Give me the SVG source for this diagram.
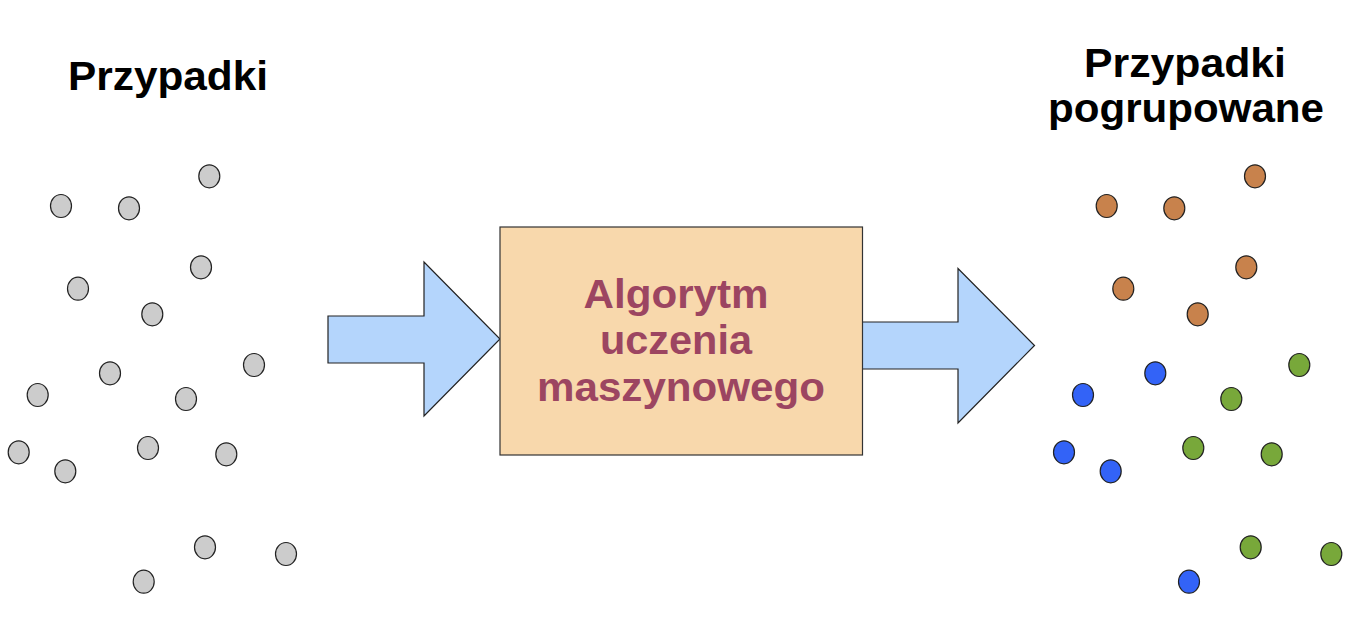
<svg xmlns="http://www.w3.org/2000/svg" width="1354" height="623" viewBox="0 0 1354 623">
<style>
.title{font-family:"Liberation Sans",Arial,sans-serif;font-weight:bold;font-size:40px;fill:#000}
.algo{font-family:"Liberation Sans",Arial,sans-serif;font-weight:bold;font-size:41px;fill:#9c4561}
.arrow{fill:#b4d5fc;stroke:#222;stroke-width:1.2}
.box{fill:#f8d8ac;stroke:#333;stroke-width:1.2}
ellipse{stroke:#222;stroke-width:1.2}
.g{fill:#cccccc}.o{fill:#c8824c}.b{fill:#3363f7}.v{fill:#78a83a}
</style>
<rect width="1354" height="623" fill="#fff"/>
<g id="title-left"><text class="title" x="68" y="90" textLength="200" lengthAdjust="spacingAndGlyphs">Przypadki</text></g>
<g id="title-right">
<text class="title" x="1084" y="77" textLength="202" lengthAdjust="spacingAndGlyphs">Przypadki</text>
<text class="title" x="1048" y="122" textLength="276" lengthAdjust="spacingAndGlyphs">pogrupowane</text>
</g>
<g id="cases-left">
<ellipse class="g" cx="209.3" cy="176.3" rx="10.5" ry="11.5"/>
<ellipse class="g" cx="61" cy="206" rx="10.5" ry="11.5"/>
<ellipse class="g" cx="129" cy="208.3" rx="10.5" ry="11.5"/>
<ellipse class="g" cx="201" cy="267.3" rx="10.5" ry="11.5"/>
<ellipse class="g" cx="78" cy="288.7" rx="10.5" ry="11.5"/>
<ellipse class="g" cx="152.3" cy="314.3" rx="10.5" ry="11.5"/>
<ellipse class="g" cx="254" cy="365" rx="10.5" ry="11.5"/>
<ellipse class="g" cx="110" cy="373.3" rx="10.5" ry="11.5"/>
<ellipse class="g" cx="37.7" cy="395" rx="10.5" ry="11.5"/>
<ellipse class="g" cx="186" cy="399" rx="10.5" ry="11.5"/>
<ellipse class="g" cx="18.7" cy="452.3" rx="10.5" ry="11.5"/>
<ellipse class="g" cx="148" cy="448" rx="10.5" ry="11.5"/>
<ellipse class="g" cx="226.3" cy="454.3" rx="10.5" ry="11.5"/>
<ellipse class="g" cx="65.3" cy="471.3" rx="10.5" ry="11.5"/>
<ellipse class="g" cx="205" cy="547.3" rx="10.5" ry="11.5"/>
<ellipse class="g" cx="286" cy="554" rx="10.5" ry="11.5"/>
<ellipse class="g" cx="143.7" cy="581.7" rx="10.5" ry="11.5"/>
</g>
<g id="cases-right">
<ellipse class="o" cx="1255" cy="176.3" rx="10.5" ry="11.5"/>
<ellipse class="o" cx="1106.7" cy="206" rx="10.5" ry="11.5"/>
<ellipse class="o" cx="1174.3" cy="208.3" rx="10.5" ry="11.5"/>
<ellipse class="o" cx="1246.3" cy="267.3" rx="10.5" ry="11.5"/>
<ellipse class="o" cx="1123.3" cy="288.7" rx="10.5" ry="11.5"/>
<ellipse class="o" cx="1197.7" cy="314.3" rx="10.5" ry="11.5"/>
<ellipse class="v" cx="1299.3" cy="365" rx="10.5" ry="11.5"/>
<ellipse class="b" cx="1155.3" cy="373.3" rx="10.5" ry="11.5"/>
<ellipse class="b" cx="1083" cy="395" rx="10.5" ry="11.5"/>
<ellipse class="v" cx="1231.3" cy="399" rx="10.5" ry="11.5"/>
<ellipse class="b" cx="1064" cy="452.3" rx="10.5" ry="11.5"/>
<ellipse class="v" cx="1193.3" cy="448" rx="10.5" ry="11.5"/>
<ellipse class="v" cx="1271.7" cy="454.3" rx="10.5" ry="11.5"/>
<ellipse class="b" cx="1110.7" cy="471.3" rx="10.5" ry="11.5"/>
<ellipse class="v" cx="1250.7" cy="547.3" rx="10.5" ry="11.5"/>
<ellipse class="v" cx="1331.3" cy="554" rx="10.5" ry="11.5"/>
<ellipse class="b" cx="1189" cy="581.7" rx="10.5" ry="11.5"/>
</g>
<g id="connectors">
<polygon class="arrow" points="328,316 424,316 424,262 500,339 424,416 424,363 328,363"/>
<polygon class="arrow" points="862,322 958,322 958,268.5 1034.5,345.5 958,423 958,369 862,369"/>
</g>
<g id="algorithm">
<rect class="box" x="500" y="227" width="362.5" height="228"/>
<text class="algo" x="583.5" y="307.5" textLength="185" lengthAdjust="spacingAndGlyphs">Algorytm</text>
<text class="algo" x="600" y="354" textLength="152" lengthAdjust="spacingAndGlyphs">uczenia</text>
<text class="algo" x="537" y="400.5" textLength="288" lengthAdjust="spacingAndGlyphs">maszynowego</text>
</g>
</svg>
